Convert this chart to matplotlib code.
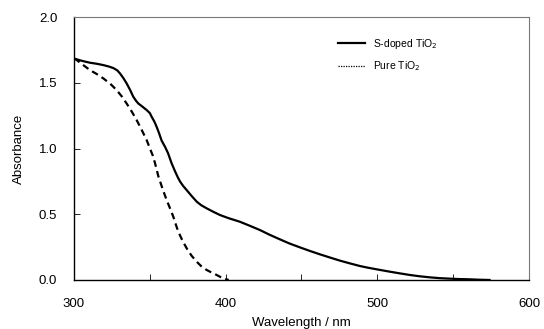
import matplotlib
matplotlib.use("Agg")
import matplotlib.pyplot as plt
from matplotlib.lines import Line2D

plt.rcParams["font.family"] = ["Liberation Sans", "DejaVu Sans"]

# S-doped TiO2 (solid)
wl_s = [300, 305, 310.5, 315, 319.3, 323, 326, 328.5, 330.3, 332.5, 334.7,
        337, 339.1, 341, 342.4, 345, 347.9, 350, 351.2, 353, 354.5, 356,
        357.8, 360, 362, 364.4, 366.5, 368.5, 370, 372, 374.3, 377.5, 381,
        384, 387.5, 392, 396.3, 402, 409.4, 416, 422.6, 429, 435.8, 442,
        449, 455.5, 462.2, 469, 475.4, 482, 488.6, 494, 499.6, 508.3, 515,
        521.5, 528, 534.7, 541, 547.9, 554, 561, 567, 574]
abs_s = [1.685, 1.668, 1.653, 1.645, 1.635, 1.624, 1.612, 1.595, 1.572,
         1.537, 1.496, 1.446, 1.394, 1.362, 1.343, 1.320, 1.293, 1.270,
         1.242, 1.205, 1.165, 1.120, 1.060, 1.014, 0.965, 0.887, 0.830,
         0.780, 0.748, 0.715, 0.684, 0.640, 0.595, 0.568, 0.545, 0.518,
         0.494, 0.470, 0.443, 0.412, 0.380, 0.344, 0.309, 0.278, 0.248,
         0.221, 0.195, 0.170, 0.147, 0.126, 0.106, 0.093, 0.081, 0.063,
         0.050, 0.038, 0.028, 0.020, 0.014, 0.010, 0.007, 0.005, 0.002, 0.0]

# Pure TiO2 (dashed)
wl_p = [300, 301.8, 306, 310.5, 315, 319.3, 324, 328.1, 331.5, 334.7, 338,
        341.3, 344.5, 347.9, 350.1, 352, 353.4, 355.6, 358.5, 361.1, 363.5,
        365.5, 367.2, 368.8, 371.5, 374.3, 377.5, 380.9, 384, 387.5, 391,
        394.1, 397, 399.6, 402]
abs_p = [1.685, 1.673, 1.636, 1.597, 1.567, 1.534, 1.492, 1.445, 1.397,
         1.343, 1.283, 1.217, 1.145, 1.065, 1.00, 0.945, 0.890, 0.790,
         0.690, 0.608, 0.540, 0.481, 0.420, 0.367, 0.300, 0.241, 0.185,
         0.139, 0.104, 0.076, 0.055, 0.038, 0.020, 0.008, 0.0]

fig = plt.figure(figsize=(5.44, 3.29), dpi=100)
ax = fig.add_axes([0.136, 0.149, 0.8364, 0.799])

ax.plot(wl_s, abs_s, color="black", lw=1.6)
ax.plot(wl_p, abs_p, color="black", lw=1.6, dashes=(3.0, 2.0))

ax.set_xlim(300, 600)
ax.set_ylim(0, 2.0)
ax.set_xticks(range(300, 601, 50))
ax.set_xticklabels(["300", "", "400", "", "500", "", "600"])
ax.set_yticks([0, 0.5, 1.0, 1.5, 2.0])
ax.set_yticklabels(["0.0", "0.5", "1.0", "1.5", "2.0"])
ax.tick_params(axis="x", direction="in", length=4, width=0.6, pad=13,
               labelsize=9.5)
ax.tick_params(axis="y", direction="in", length=4, width=0.6, pad=12,
               labelsize=9.5)

for side in ["left", "bottom"]:
    ax.spines[side].set_color("black")
    ax.spines[side].set_linewidth(1.0)
for side in ["top", "right"]:
    ax.spines[side].set_color("#777777")
    ax.spines[side].set_linewidth(0.8)

ax.set_xlabel("Wavelength / nm", fontsize=9.5, labelpad=5)
ax.set_ylabel("Absorbance", fontsize=9.5, labelpad=10)

handles = [Line2D([], [], color="black", lw=1.6),
           Line2D([], [], color="black", lw=0.9, ls=(0, (1, 1)))]
ax.legend(handles, ["S-doped TiO$_2$", "Pure TiO$_2$"], loc="upper left",
          bbox_to_anchor=(0.56, 0.96), frameon=False, fontsize=7.5,
          handlelength=2.6, handletextpad=0.7, labelspacing=0.8)

fig.savefig("out.png", dpi=100)
